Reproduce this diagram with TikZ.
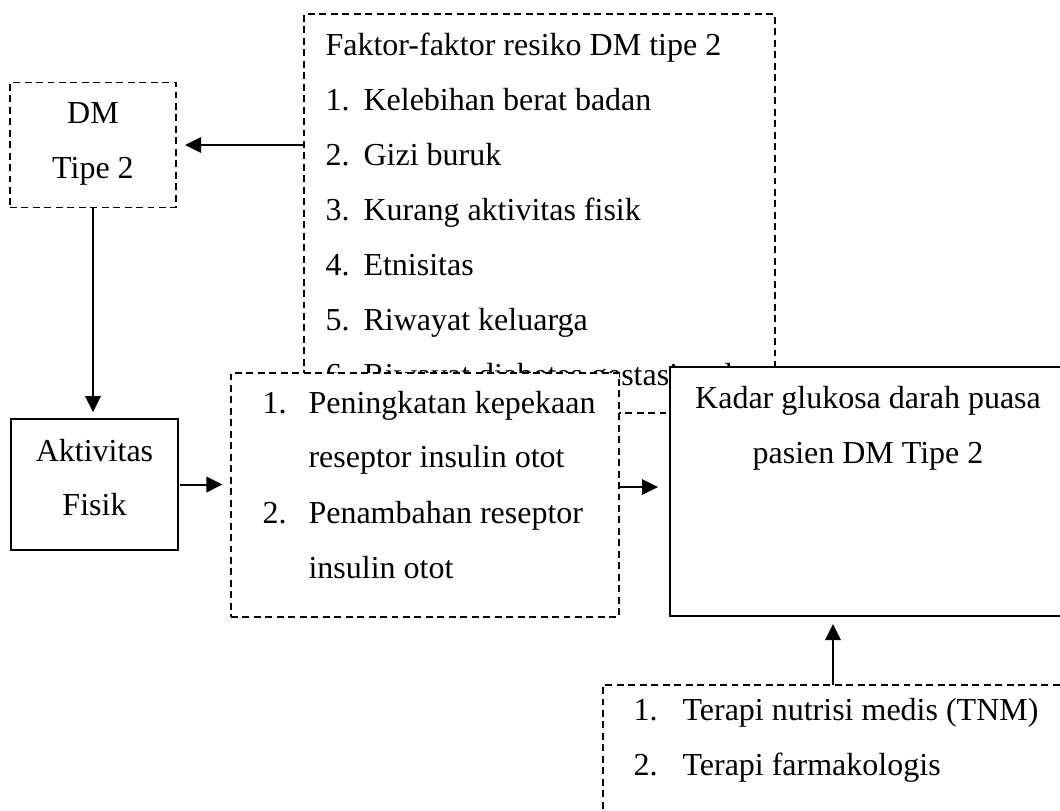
\documentclass[tikz,border=0pt]{standalone}
\usepackage{fontspec}
\setmainfont{Liberation Serif}
\usepackage{tikz}
\usetikzlibrary{positioning,arrows.meta}

\begin{document}
\begin{tikzpicture}[%
            x=0.375pt, y=-0.375pt,
            dashbox/.style={draw, dash pattern=on 2.6pt off 1.7pt, line width=0.6pt, fill=white, inner sep=0pt, outer sep=0pt},
            solidbox/.style={draw, line width=0.8pt, fill=white, inner sep=0pt, outer sep=0pt},
            txt/.style={anchor=base west, inner sep=0pt, font=\fontsize{12}{14}\selectfont},
            ctxt/.style={anchor=base, inner sep=0pt, font=\fontsize{12}{14}\selectfont},
            arrow/.style={-{Triangle[length=6pt,width=5.8pt]}, line width=0.75pt}
        ]
        \useasboundingbox (0,0) rectangle (1060,810);

        % Risk factors
        \node[dashbox, minimum width=176.6pt, minimum height=149.6pt] (faktor) at (539.5,213.5) {};
        \node[txt] (ftitle) at (325,55) {Faktor-faktor resiko DM tipe 2};
        \foreach \n/\item in {1/Kelebihan berat badan, 2/Gizi buruk, 3/Kurang aktivitas fisik,
                4/Etnisitas, 5/Riwayat keluarga, 6/Riwayat diabetes gestasional} {
            \node[txt] (fnum\n) at (325,55+55*\n) {\n.};
            \node[txt] (fitem\n) at (363,55+55*\n) {\item};
        }

        % DM type 2
        \node[dashbox, minimum width=62.3pt, minimum height=46.9pt] (dmbox) at (93,145) {};
        \node[ctxt] (dmtext1) at (93,123) {DM};
        \node[ctxt] (dmtext2) at (93,178) {Tipe 2};

        % Physical activity
        \node[solidbox, minimum width=62.6pt, minimum height=49.1pt] (aktivitas) at (94.5,484.5) {};
        \node[ctxt] (akttext1) at (94.5,461) {Aktivitas};
        \node[ctxt] (akttext2) at (94.5,515) {Fisik};

        % Effects on insulin receptors
        \node[dashbox, minimum width=145.5pt, minimum height=91.5pt] (efek) at (425,495) {};
        \node[txt] (enum1) at (262,413) {1.};
        \node[txt] (eitem1a) at (308,413) {Peningkatan kepekaan};
        \node[txt] (eitem1b) at (308,467) {reseptor insulin otot};
        \node[txt] (enum2) at (262,523) {2.};
        \node[txt] (eitem2a) at (308,523) {Penambahan reseptor};
        \node[txt] (eitem2b) at (308,578) {insulin otot};

        % Fasting blood glucose
        \node[solidbox, minimum width=148.5pt, minimum height=93.4pt] (kadar) at (868,491.5) {};
        \node[ctxt] (kadtext1) at (868,408) {Kadar glukosa darah puasa};
        \node[ctxt] (kadtext2) at (868,463) {pasien DM Tipe 2};

        % Therapy
        \node[dashbox, minimum width=180pt, minimum height=56.3pt] (terapi) at (843,760) {};
        \node[txt] (tnum1) at (633,720) {1.};
        \node[txt] (titem1) at (682,720) {Terapi nutrisi medis (TNM)};
        \node[txt] (tnum2) at (633,775) {2.};
        \node[txt] (titem2) at (682,775) {Terapi farmakologis};

        % Connections
        \draw[arrow, shorten >=3.4pt] (faktor.west |- dmbox.east) -- (dmbox.east);
        \draw[arrow, shorten >=2.6pt] (dmbox.south) -- (dmbox.south |- aktivitas.north);
        \draw[arrow, shorten <=0.75pt, shorten >=3.2pt] (aktivitas.east) -- (aktivitas.east -| efek.west);
        \draw[arrow, shorten >=4.5pt] ([yshift=3pt]efek.east) -- ([yshift=3pt]efek.east -| kadar.west);
        \draw[arrow, shorten >=3pt] ([xshift=86.25pt]terapi.north west) -- ([xshift=86.25pt]terapi.north west |- kadar.south);

        \end{tikzpicture}
\end{document}
